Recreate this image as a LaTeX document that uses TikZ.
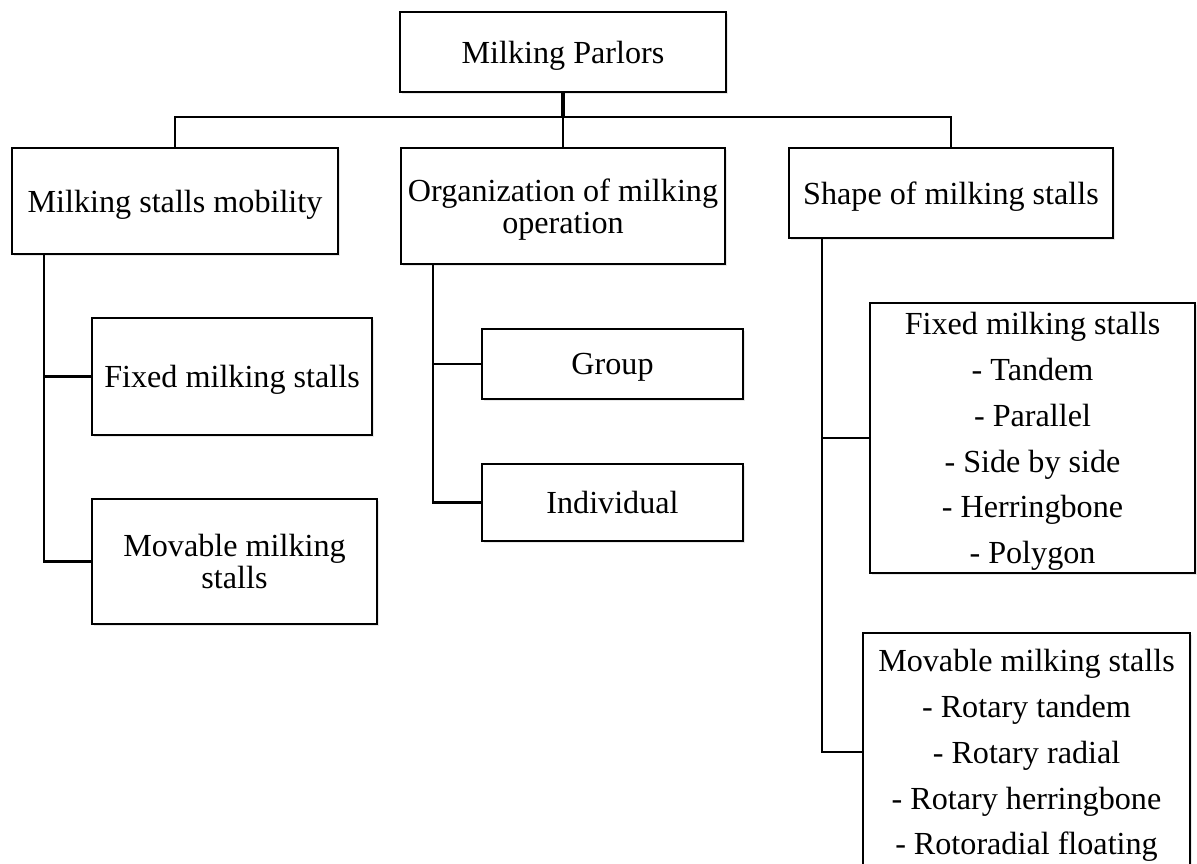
\documentclass[tikz,border=0pt]{standalone}
\usepackage{fontspec}
\setmainfont{Liberation Serif}
\usepackage{tikz}
\usetikzlibrary{positioning,shadows}

\begin{document}
\begin{tikzpicture}[x=0.02cm, y=-0.02cm,
  font=\fontsize{18.3}{18}\selectfont,
  box/.style={draw, line width=1.4pt, fill=white, align=center, inner sep=2pt, text depth=0pt,
    drop shadow={opacity=0.18, shadow xshift=1.2pt, shadow yshift=-1.4pt}},
  listbox/.style={box, font=\fontsize{18.3}{26.1}\selectfont},
  link/.style={line width=1.4pt}]
  \useasboundingbox (0,0) rectangle (1197,863);
  \clip (0,0) rectangle (1197,863);

  % top level
  \node[box, minimum width=6.52cm, minimum height=1.6cm] (parlors) at (563,52) {Milking Parlors};
  \node[box, minimum width=6.52cm, minimum height=2.12cm] (mob) at (175,201) {Milking stalls mobility};
  \node[box, minimum width=6.48cm, minimum height=2.32cm] (org) at (563,206) {Organization of milking\\operation};
  \node[box, minimum width=6.48cm, minimum height=1.8cm] (shape) at (951,193) {Shape of milking stalls};

  % second level
  \node[box, minimum width=5.6cm, minimum height=2.34cm] (fixm) at (232,376.5) {Fixed milking stalls};
  \node[box, minimum width=5.7cm, minimum height=2.5cm] (movm) at (234.5,561.5) {Movable milking\\stalls};
  \node[box, minimum width=5.22cm, minimum height=1.4cm] (group) at (612.5,364) {Group};
  \node[box, minimum width=5.22cm, minimum height=1.54cm] (indiv) at (612.5,502.5) {Individual};
  \node[listbox, minimum width=6.5cm, minimum height=5.4cm] (fixs) at (1032.5,438)
    {Fixed milking stalls\\- Tandem\\- Parallel\\- Side by side\\- Herringbone\\- Polygon};
  \node[listbox, minimum width=6.54cm, minimum height=4.76cm] (movs) at (1026.5,752)
    {Movable milking stalls\\- Rotary tandem\\- Rotary radial\\- Rotary herringbone\\- Rotoradial floating};

  % connectors
  \coordinate (bus) at (0,117);
  \draw[link, line width=2.8pt] (parlors.south) -- (parlors.south |- bus);
  \draw[link] (mob.north) |- (bus -| shape.north) -- (shape.north);
  \draw[link] (org.north) -- (org.north |- bus);

  \coordinate (mobtrunk) at ([xshift=0.66cm]mob.south west);
  \coordinate (orgtrunk) at ([xshift=0.66cm]org.south west);
  \coordinate (shapetrunk) at ([xshift=0.68cm]shape.south west);
  \draw[link] (mobtrunk) |- (movm.west);
  \draw[link] (mobtrunk |- fixm.west) -- (fixm.west);
  \draw[link] (orgtrunk) |- (indiv.west);
  \draw[link] (orgtrunk |- group.west) -- (group.west);
  \draw[link] (shapetrunk) |- (movs.west);
  \draw[link] (shapetrunk |- fixs.west) -- (fixs.west);
\end{tikzpicture}
\end{document}
